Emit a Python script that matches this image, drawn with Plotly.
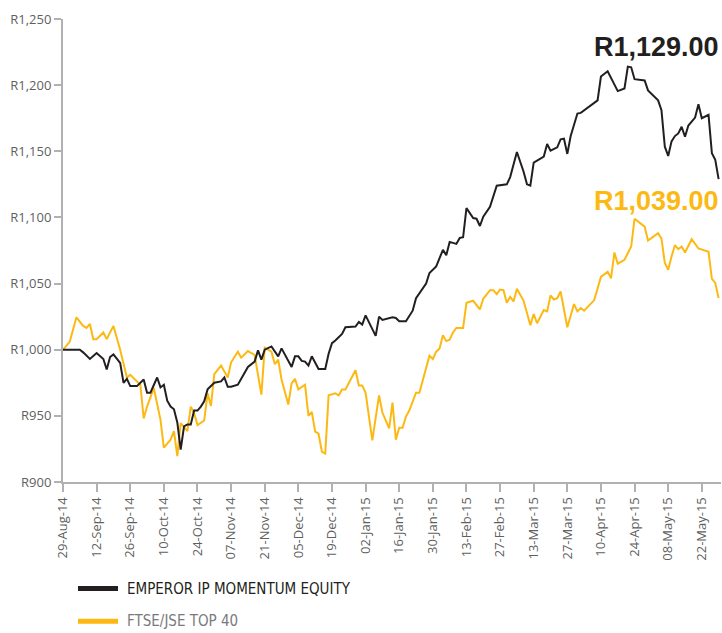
import pandas as pd
import plotly.graph_objects as go

# ---------------- data ----------------
START_DATE = "2014-08-29"
N_DAYS = 196  # business days 29-Aug-14 .. 29-May-15

emp_day = [0, 5, 6, 8, 10, 12, 13, 14, 15, 17,
           18, 19, 20, 22, 24, 25, 26, 28, 29, 30,
           31, 32, 33, 34, 35, 36, 37, 38, 39, 40,
           41, 42, 43, 45, 47, 48, 49, 50, 52, 55,
           57, 58, 59, 60, 62, 64, 65, 68, 69, 70,
           71, 72, 73, 74, 76, 78, 79, 80, 81, 83,
           84, 87, 88, 89, 90, 93, 94, 95, 98, 99,
           100, 102, 104, 105, 108, 109, 111, 112, 113, 114,
           115, 117, 118, 119, 120, 122, 123, 124, 125, 127,
           129, 132, 133, 135, 137, 138, 139, 140, 143, 144,
           145, 147, 148, 149, 150, 151, 153, 154, 159, 160,
           162, 165, 167, 168, 169, 170, 173, 174, 177, 178,
           179, 180, 181, 182, 183, 184, 185, 186, 188, 189,
           190, 192, 193, 194, 195]
emp_val = [1000, 1000, 998, 993, 997.5, 993, 985, 994.5, 996.5, 990,
           975, 978, 972.5, 972.5, 977.5, 967.5, 967.5, 979, 971.5, 973.5,
           961.5, 957, 955, 945, 924.5, 942, 943.5, 943.5, 954, 954,
           957, 961, 970, 975, 976, 979, 972, 972, 973.5, 987,
           991, 999.5, 992.5, 1000, 1002.5, 995, 1001, 987, 995, 995,
           991.5, 991, 988, 995, 985.5, 985.5, 997, 1005, 1007, 1012,
           1017, 1017.5, 1021, 1019, 1026, 1010.5, 1025, 1022.5, 1024.5, 1024,
           1021.5, 1021.5, 1029.5, 1039, 1050, 1058, 1063, 1069, 1075.5, 1071.5,
           1081.5, 1080, 1084.5, 1085, 1107, 1099.5, 1099, 1093.5, 1100.5, 1108,
           1124, 1125, 1130.5, 1149.5, 1134.5, 1125, 1124, 1141.5, 1146, 1155.5,
           1150.5, 1153, 1159, 1159.5, 1148, 1161.5, 1178.5, 1179, 1188.5, 1206.5,
           1210.5, 1195.5, 1197.5, 1214, 1213.5, 1204.5, 1203.5, 1196, 1188.5, 1181,
           1153.5, 1146.5, 1157.5, 1161.5, 1163.5, 1168.5, 1161, 1169.5, 1175.5, 1185.5,
           1175, 1177.5, 1148.5, 1143.5, 1129]

top40_day = [0, 2, 4, 6, 7, 8, 9, 10, 12, 13,
             15, 17, 19, 20, 23, 24, 25, 27, 29, 30,
             32, 33, 34, 35, 37, 38, 39, 40, 42, 43,
             44, 45, 47, 49, 50, 52, 53, 55, 57, 58,
             59, 60, 62, 63, 64, 65, 67, 68, 69, 70,
             72, 73, 74, 75, 76, 77, 78, 79, 81, 82,
             83, 84, 87, 88, 89, 90, 92, 94, 95, 97,
             98, 99, 100, 101, 102, 103, 105, 106, 108, 109,
             110, 111, 112, 113, 114, 115, 116, 117, 119, 120,
             122, 124, 125, 127, 128, 129, 130, 131, 132, 133,
             134, 135, 137, 138, 139, 140, 141, 143, 144, 145,
             146, 147, 148, 150, 152, 153, 154, 155, 158, 160,
             162, 163, 164, 165, 167, 169, 170, 173, 174, 177,
             178, 179, 180, 181, 182, 183, 184, 185, 187, 189,
             191, 192, 193, 194, 195]
top40_val = [1000, 1006, 1024.5, 1018, 1016.5, 1019.5, 1008, 1008, 1013, 1008,
             1018, 1000, 979, 981, 973.5, 948, 957, 971, 947, 926,
             932, 938.5, 919.5, 944.5, 938.5, 957, 952, 943, 946.5, 967,
             957.5, 981.5, 988, 979, 990.5, 998.5, 994, 999, 996, 982.5,
             966, 1001.5, 998.5, 989, 992.5, 977.5, 958.5, 974.5, 978, 970,
             973.5, 950, 953, 938, 936.5, 923, 921.5, 965.5, 967, 965.5,
             970, 970, 984.5, 973, 973, 967.5, 931.5, 965.5, 952.5, 940.5,
             960, 932, 941, 941, 949.5, 954, 967.5, 967.5, 986, 995.5,
             993, 998.5, 1001, 1011, 1006.5, 1007.5, 1013, 1016.5, 1016.5, 1035.5,
             1037, 1030.5, 1038.5, 1045, 1045, 1042, 1045.5, 1045, 1035.5, 1040,
             1036.5, 1046, 1037, 1027.5, 1018.5, 1027, 1020, 1030, 1029, 1041,
             1038, 1039, 1044, 1017, 1034.5, 1029, 1031.5, 1029.5, 1037.5, 1055,
             1059, 1054, 1073.5, 1065, 1068, 1078, 1099, 1093, 1082.5, 1088,
             1084, 1065.5, 1060.5, 1070.5, 1079, 1076, 1078, 1073.5, 1083.5, 1076.5,
             1074.5, 1074, 1053.5, 1050.5, 1039]

tick_dates = ["2014-08-29", "2014-09-12", "2014-09-26", "2014-10-10", "2014-10-24",
              "2014-11-07", "2014-11-21", "2014-12-05", "2014-12-19", "2015-01-02",
              "2015-01-16", "2015-01-30", "2015-02-13", "2015-02-27", "2015-03-13",
              "2015-03-27", "2015-04-10", "2015-04-24", "2015-05-08", "2015-05-22"]
tick_labels = ["29-Aug-14", "12-Sep-14", "26-Sep-14", "10-Oct-14", "24-Oct-14",
               "07-Nov-14", "21-Nov-14", "05-Dec-14", "19-Dec-14", "02-Jan-15",
               "16-Jan-15", "30-Jan-15", "13-Feb-15", "27-Feb-15", "13-Mar-15",
               "27-Mar-15", "10-Apr-15", "24-Apr-15", "08-May-15", "22-May-15"]

series_names = ["EMPEROR IP MOMENTUM EQUITY", "FTSE/JSE TOP 40"]
end_labels = ["R1,129.00", "R1,039.00"]

assert len(emp_day) == len(emp_val)
assert len(top40_day) == len(top40_val)

# ---------------- styling ----------------
BLACK = "#231f20"
YELLOW = "#fdb913"
AXIS = "#b1b1b3"
TICKTXT = "#5f5f61"
LEG_GRAY = "#7a7a7c"

bdays = pd.bdate_range(START_DATE, periods=N_DAYS)
x_emp = bdays[emp_day]
x_top = bdays[top40_day]

fig = go.Figure()
fig.add_trace(go.Scatter(x=x_top, y=top40_val, mode="lines", name=series_names[1],
                         line=dict(color=YELLOW, width=2), showlegend=False))
fig.add_trace(go.Scatter(x=x_emp, y=emp_val, mode="lines", name=series_names[0],
                         line=dict(color=BLACK, width=2), showlegend=False))

fig.update_layout(
    width=722, height=633,
    margin=dict(l=63, r=1, t=19, b=151),
    paper_bgcolor="white", plot_bgcolor="white",
    font=dict(family="Open Sans, DejaVu Sans, sans-serif", size=13, color=TICKTXT),
    showlegend=False,
)

fig.update_xaxes(
    type="date",
    rangebreaks=[dict(bounds=["sat", "mon"])],
    range=["2014-08-29", "2015-05-29 17:00"],
    tickvals=tick_dates, ticktext=tick_labels, tickangle=-90,
    showline=True, linecolor=AXIS, linewidth=2,
    ticks="outside", ticklen=8, tickwidth=1.5, tickcolor=AXIS,
    showgrid=False, zeroline=False, automargin=False,
    tickfont=dict(family="Open Sans, DejaVu Sans, sans-serif", size=13, color=TICKTXT),
)
fig.update_yaxes(
    range=[900, 1250], tick0=900, dtick=50,
    tickprefix="R", tickformat=",d",
    showline=True, linecolor=AXIS, linewidth=2,
    ticks="outside", ticklen=7, tickwidth=1.5, tickcolor=AXIS,
    showgrid=False, zeroline=False, automargin=False,
    tickfont=dict(family="Open Sans, DejaVu Sans, sans-serif", size=13, color=TICKTXT),
)

# end-value labels
fig.add_annotation(text="<b>" + end_labels[0] + "</b>", xref="paper", yref="paper",
                   x=1.0, y=0.940, xanchor="right", yanchor="middle", showarrow=False,
                   font=dict(family="Liberation Sans, Arial, sans-serif", size=27, color=BLACK))
fig.add_annotation(text="<b>" + end_labels[1] + "</b>", xref="paper", yref="paper",
                   x=1.0, y=0.606, xanchor="right", yanchor="middle", showarrow=False,
                   font=dict(family="Liberation Sans, Arial, sans-serif", size=27, color=YELLOW))

# custom legend below the chart
PW = 658.0
PH = 463.1
def px_x(px):
    return (px - 63.0) / PW
def px_y(py):
    return (482.4 - py) / PH

leg_rows = [(589, BLACK, BLACK), (621.7, YELLOW, LEG_GRAY)]
for (py, lc, tc), name in zip(leg_rows, series_names):
    fig.add_shape(type="line", xref="paper", yref="paper",
                  x0=px_x(78), x1=px_x(118), y0=px_y(py), y1=px_y(py),
                  line=dict(color=lc, width=5))
    fig.add_annotation(text=name, xref="paper", yref="paper",
                       x=px_x(125), y=px_y(py), xanchor="left", yanchor="middle",
                       showarrow=False,
                       font=dict(family="Liberation Sans Narrow, DejaVu Sans Condensed, Arial Narrow, sans-serif",
                                 size=15, color=tc))

fig.write_html("out.html", config={"displayModeBar": False},
               post_script="document.body.style.margin='0px';document.body.style.overflow='hidden';")
